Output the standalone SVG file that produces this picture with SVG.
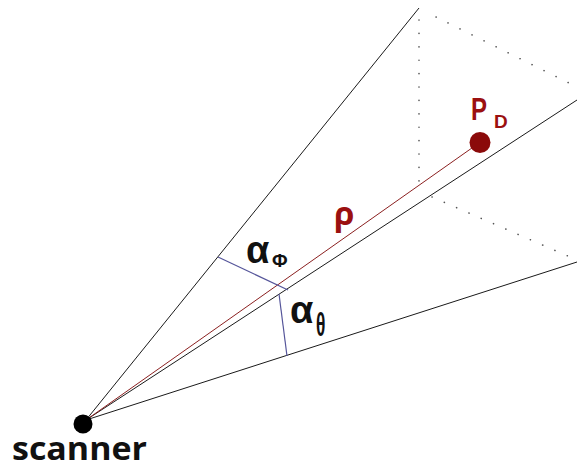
<svg xmlns="http://www.w3.org/2000/svg" width="577" height="469" viewBox="0 0 577 469">
<style>
.ray{stroke:#1a1a1a;stroke-width:1;fill:none}
.dot{stroke:#555;stroke-width:1.6;stroke-dasharray:0.1 13.3;stroke-linecap:round;fill:none}
.ang{stroke:#55559a;stroke-width:1.2;fill:none}
.lbl{font-family:"Liberation Sans","DejaVu Sans",sans-serif;font-weight:bold;fill:#111}
.red{font-family:"Liberation Sans","Open Sans",sans-serif;font-weight:bold;fill:#9b1010}
</style>
<rect width="577" height="469" fill="#fff"/>
<g id="connectors">
<line class="ray" x1="86" y1="420" x2="419" y2="8"/>
<line class="ray" x1="86" y1="420" x2="577" y2="100"/>
<line class="ray" x1="86" y1="420" x2="577" y2="262"/>
<line x1="86" y1="420" x2="479" y2="143" stroke="#8b2020" stroke-width="1"/>
<line class="ang" x1="218" y1="257" x2="288" y2="290"/>
<line class="ang" x1="279" y1="294" x2="287" y2="356"/>
</g>
<g id="frustum">
<line class="dot" x1="419" y1="20" x2="419" y2="190"/>
<line class="dot" x1="436" y1="17" x2="577" y2="87"/>
<line class="dot" x1="432" y1="197" x2="577" y2="260"/>
</g>
<g id="scanner">
<circle cx="83" cy="424" r="9.5" fill="#000"/>
<text x="12" y="460" font-family="'Open Sans','Liberation Sans',sans-serif" font-weight="bold" font-size="33" fill="#111" textLength="135" lengthAdjust="spacingAndGlyphs">scanner</text>
</g>
<g id="pd">
<circle cx="480" cy="142.5" r="10.5" fill="#8b0a0a"/>
<text class="red" x="471" y="120" font-size="32" textLength="16" lengthAdjust="spacingAndGlyphs">P</text>
<text class="red" x="494" y="128" font-size="19">D</text>
</g>
<g id="rho">
<text x="334" y="225" font-family="'Open Sans','Liberation Sans',sans-serif" font-weight="bold" font-size="33" fill="#9b1010">ρ</text>
</g>
<g id="alpha-phi">
<text class="lbl" x="246" y="263" font-size="38">α</text>
<text class="lbl" x="272" y="267" font-size="19">Φ</text>
</g>
<g id="alpha-theta">
<text class="lbl" x="290" y="323" font-size="38">α</text>
<text class="lbl" font-size="28" transform="translate(316,336) scale(0.62,1.2)">θ</text>
</g>
</svg>
